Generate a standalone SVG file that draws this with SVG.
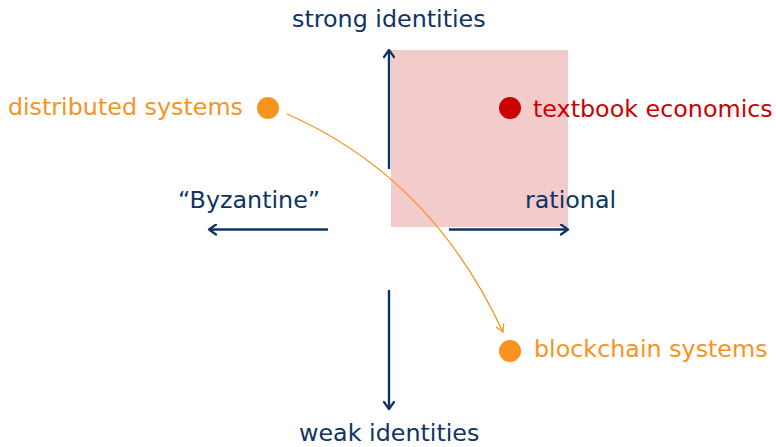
<svg xmlns="http://www.w3.org/2000/svg" width="776" height="447" viewBox="0 0 776 447">
  <style>
    text { font-family: "DejaVu Sans", "Liberation Sans", sans-serif; font-size: 23.8px; }
    .axis-label { fill: #0f3463; }
    .orange { fill: #f7931e; }
    .red { fill: #cc0000; }
    .axis { stroke: #0f3463; stroke-width: 2.4; fill: none; marker-end: url(#navyHead); }
    .flow { stroke: #f7931e; stroke-width: 1.3; fill: none; marker-end: url(#orangeHead); }
  </style>
  <defs>
    <marker id="navyHead" viewBox="-10 -6 12 12" markerWidth="12" markerHeight="12" refX="0" refY="0" orient="auto" markerUnits="userSpaceOnUse">
      <path d="M-7,-5 L0,0 L-7,5" fill="none" stroke="#0f3463" stroke-width="2.2" stroke-linecap="round" stroke-linejoin="round"/>
    </marker>
    <marker id="orangeHead" viewBox="-10 -6 12 12" markerWidth="12" markerHeight="12" refX="0" refY="0" orient="auto" markerUnits="userSpaceOnUse">
      <path d="M-7,-4 L0,0 L-7,4" fill="none" stroke="#f7931e" stroke-width="1.3" stroke-linecap="round" stroke-linejoin="round"/>
    </marker>
  </defs>

  <!-- highlighted quadrant: strong identities + rational -->
  <rect id="quadrant" x="391" y="50" width="177" height="177" fill="#f3cbcb"/>

  <g id="connectors">
    <line class="axis" x1="389" y1="169" x2="389" y2="50"/>
    <line class="axis" x1="389" y1="290" x2="389" y2="409"/>
    <line class="axis" x1="328" y1="229.5" x2="209" y2="229.5"/>
    <line class="axis" x1="449" y1="229.5" x2="568" y2="229.5"/>
    <path class="flow" d="M287,114 Q431,177 503,332"/>
  </g>

  <g id="label-strong">
    <text class="axis-label" x="292" y="27">strong identities</text>
  </g>
  <g id="label-weak">
    <text class="axis-label" x="299" y="441">weak identities</text>
  </g>
  <g id="label-byzantine">
    <text class="axis-label" x="178" y="208">“Byzantine”</text>
  </g>
  <g id="label-rational">
    <text class="axis-label" x="525" y="208">rational</text>
  </g>

  <g id="distributed-systems">
    <circle cx="268" cy="108" r="11" fill="#f7931e"/>
    <text class="orange" x="243" y="115" text-anchor="end">distributed systems</text>
  </g>
  <g id="textbook-economics">
    <circle cx="510" cy="108" r="11" fill="#cc0000"/>
    <text class="red" x="533" y="117">textbook economics</text>
  </g>
  <g id="blockchain-systems">
    <circle cx="510" cy="351" r="11" fill="#f7931e"/>
    <text class="orange" x="534" y="357">blockchain systems</text>
  </g>
</svg>
